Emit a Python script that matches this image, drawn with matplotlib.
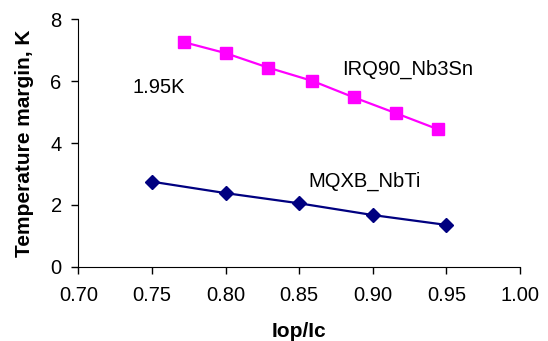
import matplotlib
matplotlib.use("Agg")
import matplotlib.pyplot as plt

plt.rcParams['font.family'] = ['Liberation Sans', 'DejaVu Sans']

irq_x = [0.772, 0.800, 0.829, 0.859, 0.887, 0.916, 0.944]
irq_y = [7.26, 6.91, 6.44, 6.01, 5.48, 4.96, 4.45]

mqxb_x = [0.75, 0.80, 0.85, 0.90, 0.95]
mqxb_y = [2.75, 2.38, 2.05, 1.67, 1.35]

xticks = [0.70, 0.75, 0.80, 0.85, 0.90, 0.95, 1.00]
yticks = [0, 2, 4, 6, 8]

fig = plt.figure(figsize=(5.48, 3.41), dpi=100)
ax = fig.add_axes([0.143, 0.218, 0.806, 0.725])

ax.plot(irq_x, irq_y, c="#FF00FF", lw=1.6, marker="s", ms=9, clip_on=False)
ax.plot(mqxb_x, mqxb_y, c="#000080", lw=1.6, marker="D", ms=7.5, clip_on=False)

ax.text(0.737, 5.62, "1.95K", fontsize=14.5, ha="left", va="baseline")
ax.text(0.879, 6.20, "IRQ90_Nb3Sn", fontsize=14.5, ha="left", va="baseline")
ax.text(0.856, 2.58, "MQXB_NbTi", fontsize=14.5, ha="left", va="baseline")

ax.set_xlim(0.70, 1.00)
ax.set_ylim(0, 8)
ax.set_xticks(xticks)
ax.set_xticklabels(["%.2f" % v for v in xticks])
ax.set_yticks(yticks)
ax.tick_params(labelsize=14.5, direction="out", length=5, width=1)
ax.tick_params(axis="x", pad=9)
ax.tick_params(axis="y", pad=7)
ax.spines["top"].set_visible(False)
ax.spines["right"].set_visible(False)
ax.set_xlabel("Iop/Ic", fontsize=15, fontweight="bold", labelpad=12)
ax.set_ylabel("Temperature margin, K", fontsize=15, fontweight="bold", labelpad=12)

fig.savefig("out.png", dpi=100)
